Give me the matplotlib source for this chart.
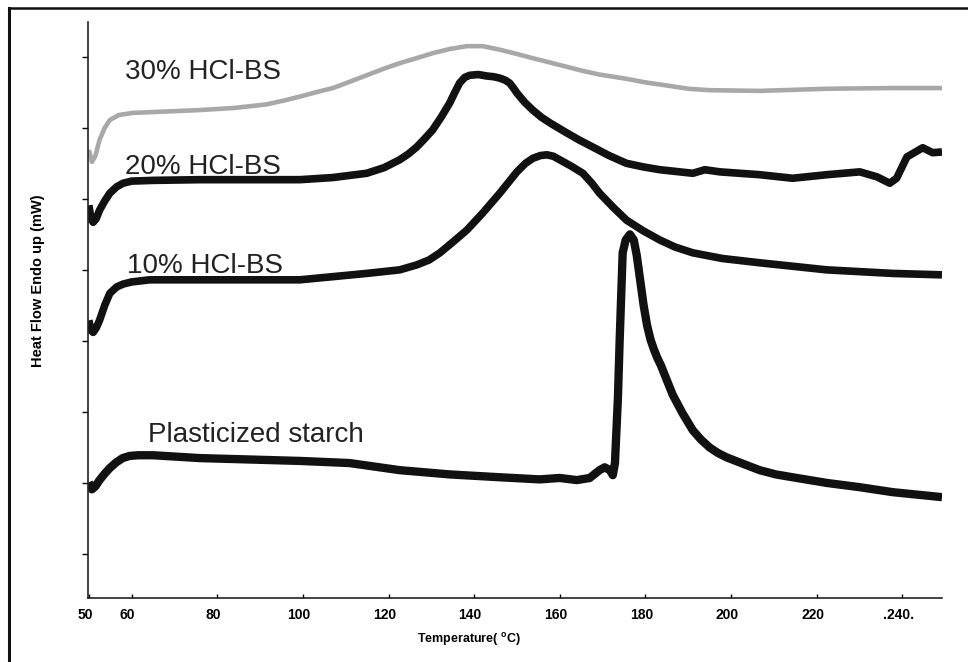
import numpy as np
import matplotlib
matplotlib.use("Agg")
import matplotlib.pyplot as plt
from matplotlib.lines import Line2D
from matplotlib.transforms import ScaledTranslation

plt.rcParams["font.family"] = ["Liberation Sans", "DejaVu Sans"]
plt.rcParams["mathtext.fontset"] = "custom"
plt.rcParams["mathtext.bf"] = "Liberation Sans:bold"
plt.rcParams["mathtext.rm"] = "Liberation Sans:bold"

# DSC traces (temperature in deg C, heat flow in arbitrary mW units)
t_plain = [50.0, 50.7, 51.5, 52.5, 53.7, 54.9, 56.4, 57.9, 59.5, 61.5, 65.0, 75.9,
           99.3, 110.9, 122.6, 134.3, 146.0, 155.3, 160.0, 164.0, 167.0, 169.3, 170.5,
           171.7, 172.4, 172.9, 173.6, 174.0, 174.7, 175.4, 176.4, 177.3, 178.0, 178.8,
           179.6, 180.4, 181.2, 182.0, 182.8, 183.6, 185.0, 186.4, 188.7, 191.1, 193.0,
           195.0, 197.0, 199.0, 202.8, 206.7, 210.5, 214.4, 222.4, 230.1, 237.8, 249.3]
h_plain = [1.01, 0.91, 0.95, 1.04, 1.13, 1.21, 1.29, 1.35, 1.38, 1.39, 1.39, 1.35,
           1.31, 1.28, 1.18, 1.12, 1.08, 1.05, 1.07, 1.04, 1.07, 1.18, 1.22,
           1.18, 1.11, 1.28, 2.21, 3.01, 4.24, 4.42, 4.50, 4.42, 4.20, 3.85,
           3.50, 3.22, 3.02, 2.88, 2.76, 2.66, 2.45, 2.24, 1.98, 1.74, 1.61,
           1.50, 1.42, 1.36, 1.27, 1.18, 1.12, 1.08, 1.00, 0.94, 0.87, 0.80]

t_10 = [50.0, 50.5, 51.0, 51.7, 52.5, 53.7, 54.9, 56.5, 58.0, 60.0, 64.2, 99.3,
        114.9, 122.6, 126.6, 129.5, 132.0, 135.0, 138.3, 142.0, 146.0, 150.0, 152.0,
        153.7, 155.5, 157.0, 158.5, 160.0, 162.7, 165.4, 167.5, 169.3, 172.5, 175.6,
        179.5, 183.4, 187.0, 191.1, 198.0, 206.7, 222.4, 237.8, 249.3]
h_10 = [3.29, 3.15, 3.12, 3.18, 3.29, 3.50, 3.67, 3.76, 3.80, 3.83, 3.86, 3.86,
        3.95, 4.00, 4.07, 4.14, 4.24, 4.39, 4.56, 4.80, 5.08, 5.38, 5.50,
        5.57, 5.61, 5.62, 5.60, 5.55, 5.46, 5.36, 5.22, 5.08, 4.88, 4.70,
        4.55, 4.42, 4.32, 4.24, 4.16, 4.10, 4.00, 3.95, 3.93]

t_20 = [50.0, 50.5, 51.0, 51.7, 52.5, 53.7, 54.9, 56.5, 58.0, 60.0, 65.0, 75.9,
        99.3, 107.0, 114.9, 119.0, 122.6, 124.6, 126.6, 128.5, 130.3, 132.3, 134.3,
        135.5, 136.6, 137.8, 139.0, 141.0, 142.9, 144.5, 146.0, 147.3, 148.3, 149.2,
        150.0, 151.8, 153.7, 155.7, 157.7, 161.6, 164.5, 167.7, 171.5, 175.6, 179.5,
        183.4, 191.1, 193.9, 197.4, 206.7, 214.4, 222.4, 230.1, 234.1, 237.1, 238.7,
        241.1, 244.8, 247.1, 249.3]
h_20 = [4.91, 4.72, 4.67, 4.72, 4.84, 4.97, 5.08, 5.17, 5.22, 5.25, 5.26, 5.27,
        5.27, 5.30, 5.36, 5.44, 5.55, 5.63, 5.73, 5.85, 5.97, 6.15, 6.35,
        6.50, 6.63, 6.71, 6.74, 6.75, 6.73, 6.72, 6.70, 6.67, 6.63, 6.56,
        6.49, 6.36, 6.25, 6.15, 6.07, 5.93, 5.83, 5.73, 5.61, 5.50, 5.45,
        5.41, 5.36, 5.41, 5.38, 5.34, 5.29, 5.34, 5.38, 5.31, 5.22, 5.29,
        5.59, 5.72, 5.65, 5.66]

t_30 = [50.0, 50.7, 51.5, 52.5, 53.7, 54.9, 57.0, 60.2, 75.9, 84.0, 91.5, 96.0,
        99.3, 103.0, 107.0, 111.0, 114.9, 118.8, 122.6, 126.5, 130.3, 134.3, 138.3,
        142.0, 146.0, 150.0, 153.7, 157.7, 161.6, 165.5, 169.3, 175.6, 180.0, 185.7,
        190.0, 195.0, 206.7, 222.4, 237.8, 249.3]
h_30 = [5.69, 5.52, 5.60, 5.83, 6.00, 6.11, 6.18, 6.21, 6.25, 6.28, 6.33, 6.39,
        6.44, 6.50, 6.56, 6.65, 6.74, 6.83, 6.91, 6.98, 7.05, 7.11, 7.15,
        7.15, 7.10, 7.04, 6.98, 6.92, 6.86, 6.80, 6.75, 6.69, 6.64, 6.59,
        6.55, 6.53, 6.52, 6.55, 6.56, 6.56]

xticks = [50, 60, 80, 100, 120, 140, 160, 180, 200, 220, 240]
xtick_labels = ["50", "60", "80", "100", "120", "140", "160", "180", "200", "220", ".240."]
yticks = [0, 1, 2, 3, 4, 5, 6, 7]

labels = ["30% HCl-BS", "20% HCl-BS", "10% HCl-BS", "Plasticized starch"]
label_pos = [(58.4, 6.79), (58.4, 5.45), (58.8, 4.05), (63.7, 1.67)]

fig = plt.figure(figsize=(9.68, 6.62), dpi=100)
ax = fig.add_axes([88 / 968, 1 - 598 / 662, (942 - 88) / 968, (598 - 22) / 662])

kw = dict(solid_joinstyle="round", solid_capstyle="butt")
ax.plot(t_30, h_30, color="#a8a8a8", lw=3.3, **kw)
ax.plot(t_20, h_20, color="#111111", lw=5.5, **kw)
ax.plot(t_10, h_10, color="#111111", lw=5.5, **kw)
ax.plot(t_plain, h_plain, color="#111111", lw=6.0, **kw)

for text, (x, y) in zip(labels, label_pos):
    ax.text(x, y, text, fontsize=20, va="center", ha="left", color="#222222")

ax.set_xlim(49.8, 249.3)
ax.set_ylim(-0.62, 7.49)
ax.set_xticks(xticks)
ax.set_xticklabels(xtick_labels, fontsize=10, fontweight="bold")
ax.set_yticks(yticks)
ax.set_yticklabels([])
ax.tick_params(axis="x", direction="in", length=3, width=1, pad=7)
ax.tick_params(axis="y", direction="out", length=4, width=1)

# labels in the scan sit a few pixels left of their ticks
shift = ScaledTranslation(-4 / 100, 0, fig.dpi_scale_trans)
for lab in ax.get_xticklabels():
    lab.set_transform(lab.get_transform() + shift)

for side in ["top", "right"]:
    ax.spines[side].set_visible(False)
for side in ["left", "bottom"]:
    ax.spines[side].set_linewidth(1.2)
    ax.spines[side].set_color("#222222")

fig.text(38 / 968, 1 - 281 / 662, "Heat Flow Endo up (mW)", rotation=90,
         fontsize=10.5, fontweight="bold", ha="center", va="center")
fig.text(469 / 968, 1 - 639 / 662, r"Temperature( $^{\mathbf{o}}$C)",
         fontsize=9, fontweight="bold", ha="center", va="center")

# scanned page frame (left and top edges)
fig.add_artist(Line2D([9 / 968, 9 / 968], [0, 1 - 8 / 662], transform=fig.transFigure,
                      color="#111111", lw=2.2))
fig.add_artist(Line2D([9 / 968, 1], [1 - 8 / 662, 1 - 8 / 662], transform=fig.transFigure,
                      color="#111111", lw=1.8))

fig.savefig("out.png", dpi=100)
